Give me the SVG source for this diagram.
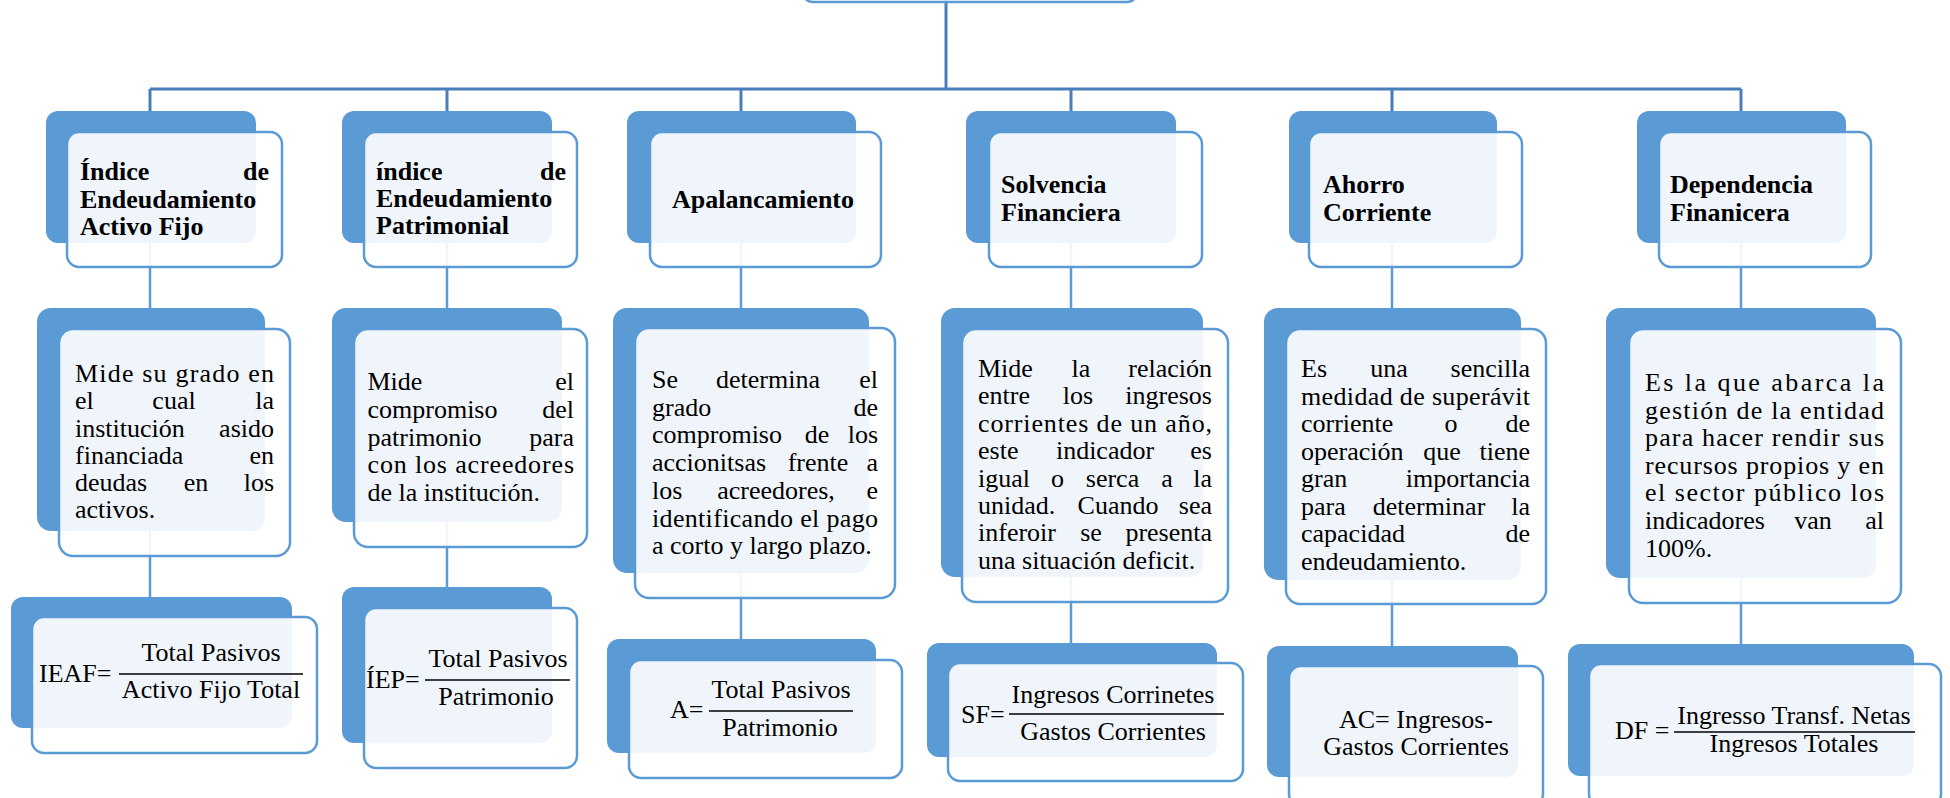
<svg xmlns="http://www.w3.org/2000/svg" width="1950" height="798" viewBox="0 0 1950 798">
<style>
.bk{fill:#5B9BD5}
.fr{fill:#fff;fill-opacity:0.9;stroke:#5B9BD5;stroke-width:2.5}
.c1{stroke:#4A7EBB;stroke-width:3;fill:none}
.c2{stroke:#5B9BD5;stroke-width:2.5;fill:none}
.bar{stroke:#000;stroke-width:1.4}
text{font-family:"Liberation Serif","Times New Roman",serif;font-size:26px;fill:#000}
.b{font-weight:bold}
.e{text-anchor:end}
.m{text-anchor:middle}
</style>
<g id="connectors">
<path class="c1" d="M946,0 V89 M150,89 H1741"/>
<path class="c1" stroke-width="2.5" d="M150,89 V111 M447,89 V111 M741,89 V111 M1071,89 V111 M1392,89 V111 M1741,89 V111"/>
<path class="c2" d="M150,243 V308 M447,243 V308 M741,243 V308 M1071,243 V308 M1392,243 V308 M1741,243 V308"/>
<path class="c2" d="M150,531 V597 M447,522 V587 M741,573 V639 M1071,577 V643 M1392,580 V646 M1741,578 V644"/>
</g>
<g id="root"><rect class="fr" x="803" y="-40" width="334" height="42" rx="10"/></g>

<g id="t1">
<rect class="bk" x="46" y="111" width="210" height="132" rx="12"/>
<rect class="fr" x="67" y="132" width="215" height="135" rx="12"/>
<text class="b" x="80" y="180">Índice</text><text class="b e" x="269" y="180">de</text>
<text class="b" x="80" y="208">Endeudamiento</text>
<text class="b" x="80" y="235">Activo Fijo</text>
</g>
<g id="t2">
<rect class="bk" x="342" y="111" width="210" height="132" rx="12"/>
<rect class="fr" x="364" y="132" width="213" height="135" rx="12"/>
<text class="b" x="376" y="180">índice</text><text class="b e" x="566" y="180">de</text>
<text class="b" x="376" y="207">Endeudamiento</text>
<text class="b" x="376" y="234">Patrimonial</text>
</g>
<g id="t3">
<rect class="bk" x="627" y="111" width="229" height="132" rx="12"/>
<rect class="fr" x="650" y="132" width="231" height="135" rx="12"/>
<text class="b" x="672" y="208">Apalancamiento</text>
</g>
<g id="t4">
<rect class="bk" x="966" y="111" width="210" height="132" rx="12"/>
<rect class="fr" x="989" y="132" width="213" height="135" rx="12"/>
<text class="b" x="1001" y="193">Solvencia</text>
<text class="b" x="1001" y="221">Financiera</text>
</g>
<g id="t5">
<rect class="bk" x="1289" y="111" width="208" height="132" rx="12"/>
<rect class="fr" x="1309" y="132" width="213" height="135" rx="12"/>
<text class="b" x="1323" y="193">Ahorro</text>
<text class="b" x="1323" y="221">Corriente</text>
</g>
<g id="t6">
<rect class="bk" x="1637" y="111" width="209" height="132" rx="12"/>
<rect class="fr" x="1659" y="132" width="212" height="135" rx="12"/>
<text class="b" x="1670" y="193">Dependencia</text>
<text class="b" x="1670" y="221">Finanicera</text>
</g>

<g id="d1">
<rect class="bk" x="37" y="308" width="228" height="223" rx="14"/>
<rect class="fr" x="59" y="329" width="231" height="227" rx="14"/>
<text x="75" y="382" textLength="199" lengthAdjust="spacing">Mide su grado en</text>
<text x="75" y="409">el</text><text class="m" x="174" y="409">cual</text><text class="e" x="274" y="409">la</text>
<text x="75" y="437">institución</text><text class="e" x="274" y="437">asido</text>
<text x="75" y="464">financiada</text><text class="e" x="274" y="464">en</text>
<text x="75" y="491">deudas</text><text class="m" x="196" y="491">en</text><text class="e" x="274" y="491">los</text>
<text x="75" y="518">activos.</text>
</g>
<g id="d2">
<rect class="bk" x="332" y="308" width="230" height="214" rx="14"/>
<rect class="fr" x="354" y="329" width="233" height="218" rx="14"/>
<text x="367.5" y="390">Mide</text><text class="e" x="574" y="390">el</text>
<text x="367.5" y="418">compromiso</text><text class="e" x="574" y="418">del</text>
<text x="367.5" y="446">patrimonio</text><text class="e" x="574" y="446">para</text>
<text x="367.5" y="473" textLength="206.5" lengthAdjust="spacing">con los acreedores</text>
<text x="367.5" y="501">de la institución.</text>
</g>
<g id="d3">
<rect class="bk" x="613" y="308" width="256" height="265" rx="14"/>
<rect class="fr" x="635" y="328" width="260" height="270" rx="14"/>
<text x="652" y="388">Se</text><text class="m" x="768" y="388">determina</text><text class="e" x="878" y="388">el</text>
<text x="652" y="416">grado</text><text class="e" x="878" y="416">de</text>
<text x="652" y="443">compromiso</text><text class="m" x="817" y="443">de</text><text class="e" x="878" y="443">los</text>
<text x="652" y="471">accionitsas</text><text class="m" x="818" y="471">frente</text><text class="e" x="878" y="471">a</text>
<text x="652" y="499">los</text><text class="m" x="776" y="499">acreedores,</text><text class="e" x="878" y="499">e</text>
<text x="652" y="527" textLength="226" lengthAdjust="spacing">identificando el pago</text>
<text x="652" y="554">a corto y largo plazo.</text>
</g>
<g id="d4">
<rect class="bk" x="941" y="308" width="262" height="269" rx="14"/>
<rect class="fr" x="962" y="329" width="266" height="273" rx="14"/>
<text x="978" y="377">Mide</text><text class="m" x="1081" y="377">la</text><text class="e" x="1212" y="377">relación</text>
<text x="978" y="404.4">entre</text><text class="m" x="1078" y="404.4">los</text><text class="e" x="1212" y="404.4">ingresos</text>
<text x="978" y="431.8" textLength="234" lengthAdjust="spacing">corrientes de un año,</text>
<text x="978" y="459.2">este</text><text class="m" x="1105" y="459.2">indicador</text><text class="e" x="1212" y="459.2">es</text>
<text x="978" y="486.6">igual</text><text class="m" x="1057.5" y="486.6">o</text><text class="m" x="1112.5" y="486.6">serca</text><text class="m" x="1167" y="486.6">a</text><text class="e" x="1212" y="486.6">la</text>
<text x="978" y="514">unidad.</text><text class="m" x="1118" y="514">Cuando</text><text class="e" x="1212" y="514">sea</text>
<text x="978" y="541.4">inferoir</text><text class="m" x="1091" y="541.4">se</text><text class="e" x="1212" y="541.4">presenta</text>
<text x="978" y="568.8">una situación deficit.</text>
</g>
<g id="d5">
<rect class="bk" x="1264" y="308" width="257" height="272" rx="14"/>
<rect class="fr" x="1286" y="329" width="260" height="275" rx="14"/>
<text x="1301" y="377">Es</text><text class="m" x="1389" y="377">una</text><text class="e" x="1530" y="377">sencilla</text>
<text x="1301" y="404.5" textLength="229" lengthAdjust="spacing">medidad de superávit</text>
<text x="1301" y="432">corriente</text><text class="m" x="1451" y="432">o</text><text class="e" x="1530" y="432">de</text>
<text x="1301" y="459.5">operación</text><text class="m" x="1442" y="459.5">que</text><text class="e" x="1530" y="459.5">tiene</text>
<text x="1301" y="487">gran</text><text class="e" x="1530" y="487">importancia</text>
<text x="1301" y="514.5">para</text><text class="m" x="1429" y="514.5">determinar</text><text class="e" x="1530" y="514.5">la</text>
<text x="1301" y="542">capacidad</text><text class="e" x="1530" y="542">de</text>
<text x="1301" y="569.5">endeudamiento.</text>
</g>
<g id="d6">
<rect class="bk" x="1606" y="308" width="270" height="270" rx="14"/>
<rect class="fr" x="1629" y="329" width="272" height="274" rx="14"/>
<text x="1645" y="391" textLength="239" lengthAdjust="spacing">Es la que abarca la</text>
<text x="1645" y="418.6" textLength="239" lengthAdjust="spacing">gestión de la entidad</text>
<text x="1645" y="446.2" textLength="239" lengthAdjust="spacing">para hacer rendir sus</text>
<text x="1645" y="473.8" textLength="239" lengthAdjust="spacing">recursos propios y en</text>
<text x="1645" y="501.4" textLength="239" lengthAdjust="spacing">el sector público los</text>
<text x="1645" y="529">indicadores</text><text class="m" x="1813" y="529">van</text><text class="e" x="1884" y="529">al</text>
<text x="1645" y="556.6">100%.</text>
</g>

<g id="f1">
<rect class="bk" x="11" y="597" width="281" height="131" rx="12"/>
<rect class="fr" x="32" y="617" width="285" height="136" rx="12"/>
<text x="39" y="682">IEAF=</text>
<text class="m" x="211" y="661">Total Pasivos</text>
<line class="bar" x1="119" y1="674" x2="303" y2="674"/>
<text class="m" x="211" y="698">Activo Fijo Total</text>
</g>
<g id="f2">
<rect class="bk" x="342" y="587" width="210" height="156" rx="12"/>
<rect class="fr" x="364" y="608" width="213" height="160" rx="12"/>
<text x="366" y="688">ÍEP=</text>
<text class="m" x="498" y="667">Total Pasivos</text>
<line class="bar" x1="425" y1="680" x2="570" y2="680"/>
<text class="m" x="496" y="705">Patrimonio</text>
</g>
<g id="f3">
<rect class="bk" x="607" y="639" width="269" height="114" rx="12"/>
<rect class="fr" x="629" y="660" width="273" height="118" rx="12"/>
<text x="670" y="718">A=</text>
<text class="m" x="781" y="698">Total Pasivos</text>
<line class="bar" x1="709" y1="711" x2="853" y2="711"/>
<text class="m" x="780" y="736">Patrimonio</text>
</g>
<g id="f4">
<rect class="bk" x="927" y="643" width="290" height="114" rx="12"/>
<rect class="fr" x="948" y="663" width="295" height="118" rx="12"/>
<text x="961" y="723">SF=</text>
<text class="m" x="1113" y="703">Ingresos Corrinetes</text>
<line class="bar" x1="1009" y1="714" x2="1224" y2="714"/>
<text class="m" x="1113" y="740">Gastos Corrientes</text>
</g>
<g id="f5">
<rect class="bk" x="1267" y="646" width="251" height="131" rx="12"/>
<rect class="fr" x="1289" y="666" width="254" height="140" rx="12"/>
<text class="m" x="1416" y="728">AC= Ingresos-</text>
<text class="m" x="1416" y="755">Gastos Corrientes</text>
</g>
<g id="f6">
<rect class="bk" x="1568" y="644" width="346" height="132" rx="12"/>
<rect class="fr" x="1589" y="664" width="352" height="142" rx="12"/>
<text x="1615" y="739">DF =</text>
<text class="m" x="1794" y="724">Ingresso Transf. Netas</text>
<line class="bar" x1="1674" y1="732" x2="1915" y2="732"/>
<text class="m" x="1794" y="752">Ingresos Totales</text>
</g>
</svg>
